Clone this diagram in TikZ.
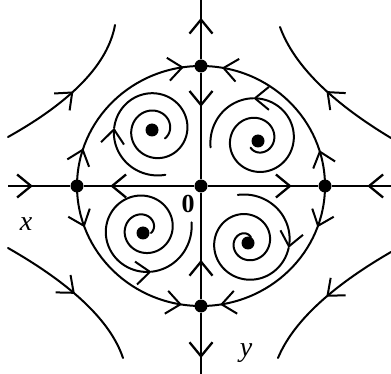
\documentclass[tikz,border=0pt]{standalone}
\usepackage{fontspec}
\setmainfont{Liberation Serif}
\usetikzlibrary{arrows.meta,decorations.markings}
\tikzset{
  fb/.tip={Straight Barb[length=14pt,width=23pt]},
  flow/.style={line width=2pt, line cap=round},
  axisline/.style={line width=2.3pt},
  dotnode/.style={circle, fill=black, inner sep=0pt, minimum size=13pt},
  mk/.style={postaction={decorate}, decoration={markings, mark=at position #1 with {\arrow{fb}}}},
  mktwo/.style 2 args={postaction={decorate}, decoration={markings, mark=at position #1 with {\arrow{fb}}, mark=at position #2 with {\arrow{fb}}}},
  lab/.style={font=\fontsize{28}{28}\selectfont\itshape, inner sep=0pt},
}
\begin{document}
\begin{tikzpicture}[x=1pt,y=-1pt]
\useasboundingbox (0,0) rectangle (391,374);
% equilibria
\node[dotnode] (O) at (201,186) {};
\node[dotnode] (L) at (77,186) {};
\node[dotnode] (R) at (325,186) {};
\node[dotnode] (T) at (201,66) {};
\node[dotnode] (B) at (201,306) {};
\node[dotnode] (F1) at (152,130) {};
\node[dotnode] (F2) at (258,141) {};
\node[dotnode] (F3) at (143,233) {};
\node[dotnode] (F4) at (248,243) {};
\coordinate (XL) at (8,186);
\coordinate (XR) at (391,186);
\coordinate (YT) at (201,0);
\coordinate (YB) at (201,374);
% axes
\draw[axisline, mk=0.4] (XL) -- (L);
\draw[axisline, mk=0.76] (O) -- (L);
\draw[axisline, mk=0.76] (O) -- (R);
\draw[axisline, mk=0.4] (XR) -- (R);
\draw[axisline, mk=0.70] (T) -- (YT);
\draw[axisline, mk=0.32] (T) -- (O);
\draw[axisline, mk=0.37] (B) -- (O);
\draw[axisline, mk=0.74] (B) -- (YB);
% separatrix circle
\draw[flow, mktwo={0.2}{0.91}] (L.center) arc[start angle=180, end angle=270, x radius=124, y radius=120];
\draw[flow, mktwo={0.19}{0.89}] (R.center) arc[start angle=0, end angle=-90, x radius=124, y radius=120];
\draw[flow, mktwo={0.22}{0.9}] (L.center) arc[start angle=180, end angle=90, x radius=124, y radius=120];
\draw[flow, mktwo={0.22}{0.9}] (R.center) arc[start angle=0, end angle=90, x radius=124, y radius=120];
% spirals (top-left: sink)
\draw[flow, -{fb}] plot[domain=77:183, samples=40, smooth] ({155+(46-0.048316*(\x-77))*cos(\x)}, {130+(46-0.048316*(\x-77))*sin(\x)});
\draw[flow] plot[domain=183:760, samples=200, smooth] ({155+(46-0.048316*(\x-77))*cos(\x)}, {130+(46-0.048316*(\x-77))*sin(\x)});
% top-right: source
\draw[flow] plot[domain=171:265, samples=40, smooth] ({257+(47-0.054492*(\x-171))*cos(\x)}, {140+(47-0.054492*(\x-171))*sin(\x)});
\draw[flow, {fb}-] plot[domain=265:850, samples=200, smooth] ({257+(47-0.054492*(\x-171))*cos(\x)}, {140+(47-0.054492*(\x-171))*sin(\x)});
% bottom-left: source
\draw[flow] plot[domain=-8:80, samples=40, smooth] ({144+(48-0.05277*(\x+8))*cos(\x)}, {229+(48-0.05277*(\x+8))*sin(\x)});
\draw[flow, {fb}-] plot[domain=80:750, samples=220, smooth] ({144+(48-0.05277*(\x+8))*cos(\x)}, {229+(48-0.05277*(\x+8))*sin(\x)});
% bottom-right: sink
\draw[flow, -{fb}] plot[domain=259:368, samples=40, smooth] ({247+(48-0.054475*(\x-259))*cos(\x)}, {242+(48-0.054475*(\x-259))*sin(\x)});
\draw[flow] plot[domain=368:1030, samples=220, smooth] ({247+(48-0.054475*(\x-259))*cos(\x)}, {242+(48-0.054475*(\x-259))*sin(\x)});
% outer trajectories
\coordinate (H1a) at (8,137);   \coordinate (H1b) at (115,25);
\coordinate (H2a) at (391,138); \coordinate (H2b) at (280,27);
\coordinate (H3a) at (8,248);   \coordinate (H3b) at (123,358);
\coordinate (H4a) at (391,252); \coordinate (H4b) at (278,358);
\draw[flow, mk=0.5] (H1a) .. controls (72.3,101) and (108,63.7) .. (H1b);
\draw[flow, mk=0.5] (H2a) .. controls (330.7,101.7) and (293.7,64.7) .. (H2b);
\draw[flow, mk=0.5] (H3a) .. controls (72.3,284.7) and (110.7,321.3) .. (H3b);
\draw[flow, mk=0.5] (H4a) .. controls (330,287.3) and (292.7,322.7) .. (H4b);
% labels
\node[lab] (xl) at (26,224) {x};
\node[lab] (yl) at (246,353) {y};
\node[font=\fontsize{26}{26}\selectfont\bfseries, inner sep=0pt] (zl) at (188,204) {0};
\end{tikzpicture}
\end{document}
